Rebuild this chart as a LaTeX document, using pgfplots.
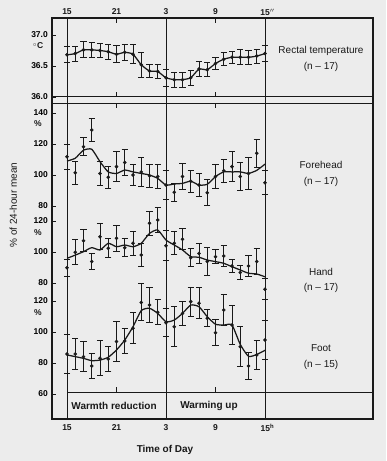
\documentclass[border=0pt]{standalone}
\usepackage{pgfplots}
\pgfplotsset{compat=1.18}
\usepackage{pgfplotstable}
\usepackage{fontspec}
\setmainfont{Liberation Sans}
\definecolor{bgcol}{RGB}{236,236,236}
\definecolor{ink}{RGB}{25,25,25}
\newcommand{\tk}{\fontsize{8.5}{10}\selectfont\bfseries}
\newcommand{\lb}{\fontsize{10}{12}\selectfont}

\pgfplotstableread{
t v e
0 36.68 0.127
1 36.70 0.120
2 36.76 0.127
3 36.76 0.120
4 36.75 0.120
5 36.73 0.124
6 36.69 0.134
7 36.72 0.130
8 36.69 0.150
9 36.52 0.200
10 36.42 0.100
11 36.41 0.110
12 36.31 0.134
13 36.28 0.120
14 36.28 0.120
15 36.31 0.120
16 36.45 0.126
17 36.44 0.110
18 36.54 0.100
19 36.61 0.100
20 36.64 0.100
21 36.64 0.120
22 36.64 0.116
23 36.66 0.113
24 36.70 0.126
}\temp

\pgfplotstableread{
t v e
0 111.8 8.0
1 101.5 7.5
2 118.3 5.9
3 129.0 7.3
4 101.0 8.0
5 98.5 6.9
6 105.4 9.5
7 108.0 8.5
8 100.0 7.0
9 102.0 9.4
10 99.5 7.5
11 99.0 7.5
12 93.5 9.4
13 88.8 5.6
14 99.0 8.4
15 96.0 7.0
16 93.5 7.4
17 88.6 8.6
18 99.0 8.0
19 102.8 7.5
20 105.4 9.5
21 99.0 8.8
22 101.0 10.2
23 114.0 8.9
24 95.0 7.9
}\fore

\pgfplotstableread{
t c
0 109.0
1 110.8
2 116.0
3 116.6
4 108.6
5 102.0
6 101.0
7 103.2
8 102.0
9 101.0
10 100.0
11 97.8
12 93.5
13 94.2
14 94.6
15 96.0
16 93.5
17 94.0
18 99.0
19 102.0
20 102.0
21 102.0
22 101.0
23 103.0
24 107.0
}\forec

\pgfplotstableread{
t v e
0 89.9 5.4
1 99.8 8.0
2 107.3 7.2
3 93.8 5.2
4 109.9 8.4
5 102.4 6.1
6 108.8 8.4
7 102.8 5.9
8 105.6 7.7
9 98.0 7.3
10 118.5 7.7
11 120.6 7.8
12 104.0 9.7
13 105.6 7.5
14 108.2 6.8
15 96.3 5.7
16 99.1 6.5
17 93.8 9.2
18 97.0 4.5
19 97.4 6.5
20 91.0 4.3
21 86.7 4.5
22 91.0 6.6
23 93.8 8.4
24 76.0 6.7
}\hand

\pgfplotstableread{
t c
0 95.9
1 98.0
2 100.2
3 102.8
4 101.3
5 105.6
6 103.4
7 104.5
8 103.4
9 105.6
10 112.0
11 114.2
12 107.7
13 104.5
14 101.3
15 97.0
16 96.6
17 94.8
18 93.8
19 92.7
20 90.5
21 88.4
22 86.3
23 85.8
24 84.0
}\handc

\pgfplotstableread{
t v e
0 85.8 12.3
1 85.8 10.0
2 84.1 9.5
3 78.0 8.2
4 83.0 11.3
5 82.6 8.0
6 93.8 12.9
7 94.2 8.3
8 102.4 9.9
9 119.1 12.0
10 117.4 11.4
11 112.7 8.0
12 106.0 9.0
13 103.4 13.0
14 112.0 7.7
15 119.6 9.4
16 118.5 9.9
17 108.8 5.4
18 99.5 8.4
19 114.2 10.2
20 104.5 12.3
21 90.5 13.0
22 78.0 8.6
23 85.2 9.2
24 94.8 12.7
}\foot

\pgfplotstableread{
t c
0 85.2
1 84.1
2 83.0
3 81.5
4 81.9
5 83.7
6 88.4
7 94.8
8 103.4
9 113.8
10 115.3
11 112.0
12 106.6
13 107.7
14 112.0
15 117.4
16 116.3
17 109.9
18 105.0
19 104.5
20 104.5
21 92.0
22 84.3
23 85.5
24 88.2
}\footc

\pgfplotsset{
  geom/.style={at={(52pt,42pt)}, anchor=south west, scale only axis,
    width=321pt, height=401pt, xmin=-1.81818, xmax=37.0909, clip=false},
  panel/.style={geom, hide x axis, axis y line*=left,
    y axis line style={draw=none}, tick align=inside, major tick length=4pt,
    ytick style={ink, line width=0.9pt},
    yticklabel style={font=\tk, anchor=east, inner sep=0pt, xshift=-4pt}},
  pts/.style={ink, only marks, mark=*, mark size=1.6pt,
    error bars/.cd, y dir=both, y explicit,
    error bar style={ink, line width=1pt},
    error mark options={ink, rotate=90, mark size=3.2pt, line width=1pt}},
  crv/.style={ink, line width=1.25pt, no marks, smooth, tension=0.35},
}

\begin{document}
\begin{tikzpicture}
\path[use as bounding box, fill=bgcol] (0,0) rectangle (386pt,461pt);

% frame axis (pixel y coordinates, top down)
\begin{axis}[geom, ymin=18, ymax=419, y dir=reverse, xtick=\empty, ytick=\empty,
  axis line style={ink, line width=1.1pt}]
\draw[ink, line width=1pt] (axis cs:0,18) -- (axis cs:0,419);
\draw[ink, line width=1pt] (axis cs:12,18) -- (axis cs:12,419);
\draw[ink, line width=1pt] (axis cs:24,18) -- (axis cs:24,419);
\draw[ink, line width=1.3pt] (axis cs:-1.81818,96.5) -- (axis cs:37.0909,96.5);
\draw[ink, line width=1pt] (axis cs:-1.81818,103) -- (axis cs:37.0909,103);
\draw[ink, line width=1pt] (axis cs:0,392) -- (axis cs:37.0909,392);
\draw[ink, line width=0.9pt] (axis cs:6,18) -- (axis cs:6,23);
\draw[ink, line width=0.9pt] (axis cs:6,96.5) -- (axis cs:6,92);
\draw[ink, line width=0.9pt] (axis cs:6,103) -- (axis cs:6,108);
\draw[ink, line width=0.9pt] (axis cs:6,392) -- (axis cs:6,387);
\draw[ink, line width=0.9pt] (axis cs:18,18) -- (axis cs:18,23);
\draw[ink, line width=0.9pt] (axis cs:18,96.5) -- (axis cs:18,92);
\draw[ink, line width=0.9pt] (axis cs:18,103) -- (axis cs:18,108);
\draw[ink, line width=0.9pt] (axis cs:18,392) -- (axis cs:18,387);
% top labels
\node[font=\tk, ink] at (axis cs:0,12) {15};
\node[font=\tk, ink] at (axis cs:6,12) {21};
\node[font=\tk, ink] at (axis cs:12,12) {3};
\node[font=\tk, ink] at (axis cs:18,12) {9};
\node[font=\tk, ink] at (axis cs:24.3,12) {15$^{\prime\prime}$};
% bottom labels
\node[font=\tk, ink] at (axis cs:0,428) {15};
\node[font=\tk, ink] at (axis cs:6,428) {21};
\node[font=\tk, ink] at (axis cs:12,428) {3};
\node[font=\tk, ink] at (axis cs:18,428) {9};
\node[font=\tk, ink] at (axis cs:24.3,428) {15\textsuperscript{h}};
\node[font=\lb\bfseries, ink] at (axis cs:11.88,450) {Time of Day};
\node[font=\lb\bfseries, ink] at (axis cs:5.70,406) {Warmth reduction};
\node[font=\lb\bfseries, ink] at (axis cs:17.21,406) {Warming up};
% units
\node[font=\tk, ink] at (axis cs:-3.515,46) {$^\circ$C};
\node[font=\tk, ink] at (axis cs:-3.515,124) {\%};
\node[font=\tk, ink] at (axis cs:-3.515,233) {\%};
\node[font=\tk, ink] at (axis cs:-3.515,313) {\%};
% y label
\node[font=\lb, ink, rotate=90] at (axis cs:-6.5,205) {\% of 24-hour mean};
% right labels
\node[font=\lb, ink] at (axis cs:30.79,51) {Rectal temperature};
\node[font=\lb, ink] at (axis cs:30.79,67) {(n -- 17)};
\node[font=\lb, ink] at (axis cs:30.79,165) {Forehead};
\node[font=\lb, ink] at (axis cs:30.79,182) {(n -- 17)};
\node[font=\lb, ink] at (axis cs:30.79,272) {Hand};
\node[font=\lb, ink] at (axis cs:30.79,288) {(n -- 17)};
\node[font=\lb, ink] at (axis cs:30.79,348) {Foot};
\node[font=\lb, ink] at (axis cs:30.79,365) {(n -- 15)};
\end{axis}

% rectal temperature
\begin{axis}[panel, ymin=30.8065, ymax=37.2742,
  ytick={36.0,36.5,37.0}, yticklabels={36.0,36.5,37.0}]
\addplot[crv, smooth=false] table[x=t, y=v] {\temp};
\addplot[pts] table[x=t, y=v, y error=e] {\temp};
\end{axis}

% forehead
\begin{axis}[panel, ymin=-57.42, ymax=201.29,
  ytick={80,100,120,140}, yticklabels={80,100,120,140}]
\addplot[crv] table[x=t, y=c] {\forec};
\addplot[pts] table[x=t, y=v, y error=e] {\fore};
\end{axis}

% hand
\begin{axis}[panel, ymin=-7.742, ymax=250.968,
  ytick={80,100,120}, yticklabels={80,100,120}]
\addplot[crv] table[x=t, y=c] {\handc};
\addplot[pts] table[x=t, y=v, y error=e] {\hand};
\end{axis}

% foot
\begin{axis}[panel, ymin=43.871, ymax=302.581,
  ytick={60,80,100,120}, yticklabels={60,80,100,120}]
\addplot[crv] table[x=t, y=c] {\footc};
\addplot[pts] table[x=t, y=v, y error=e] {\foot};
\end{axis}
\end{tikzpicture}
\end{document}
